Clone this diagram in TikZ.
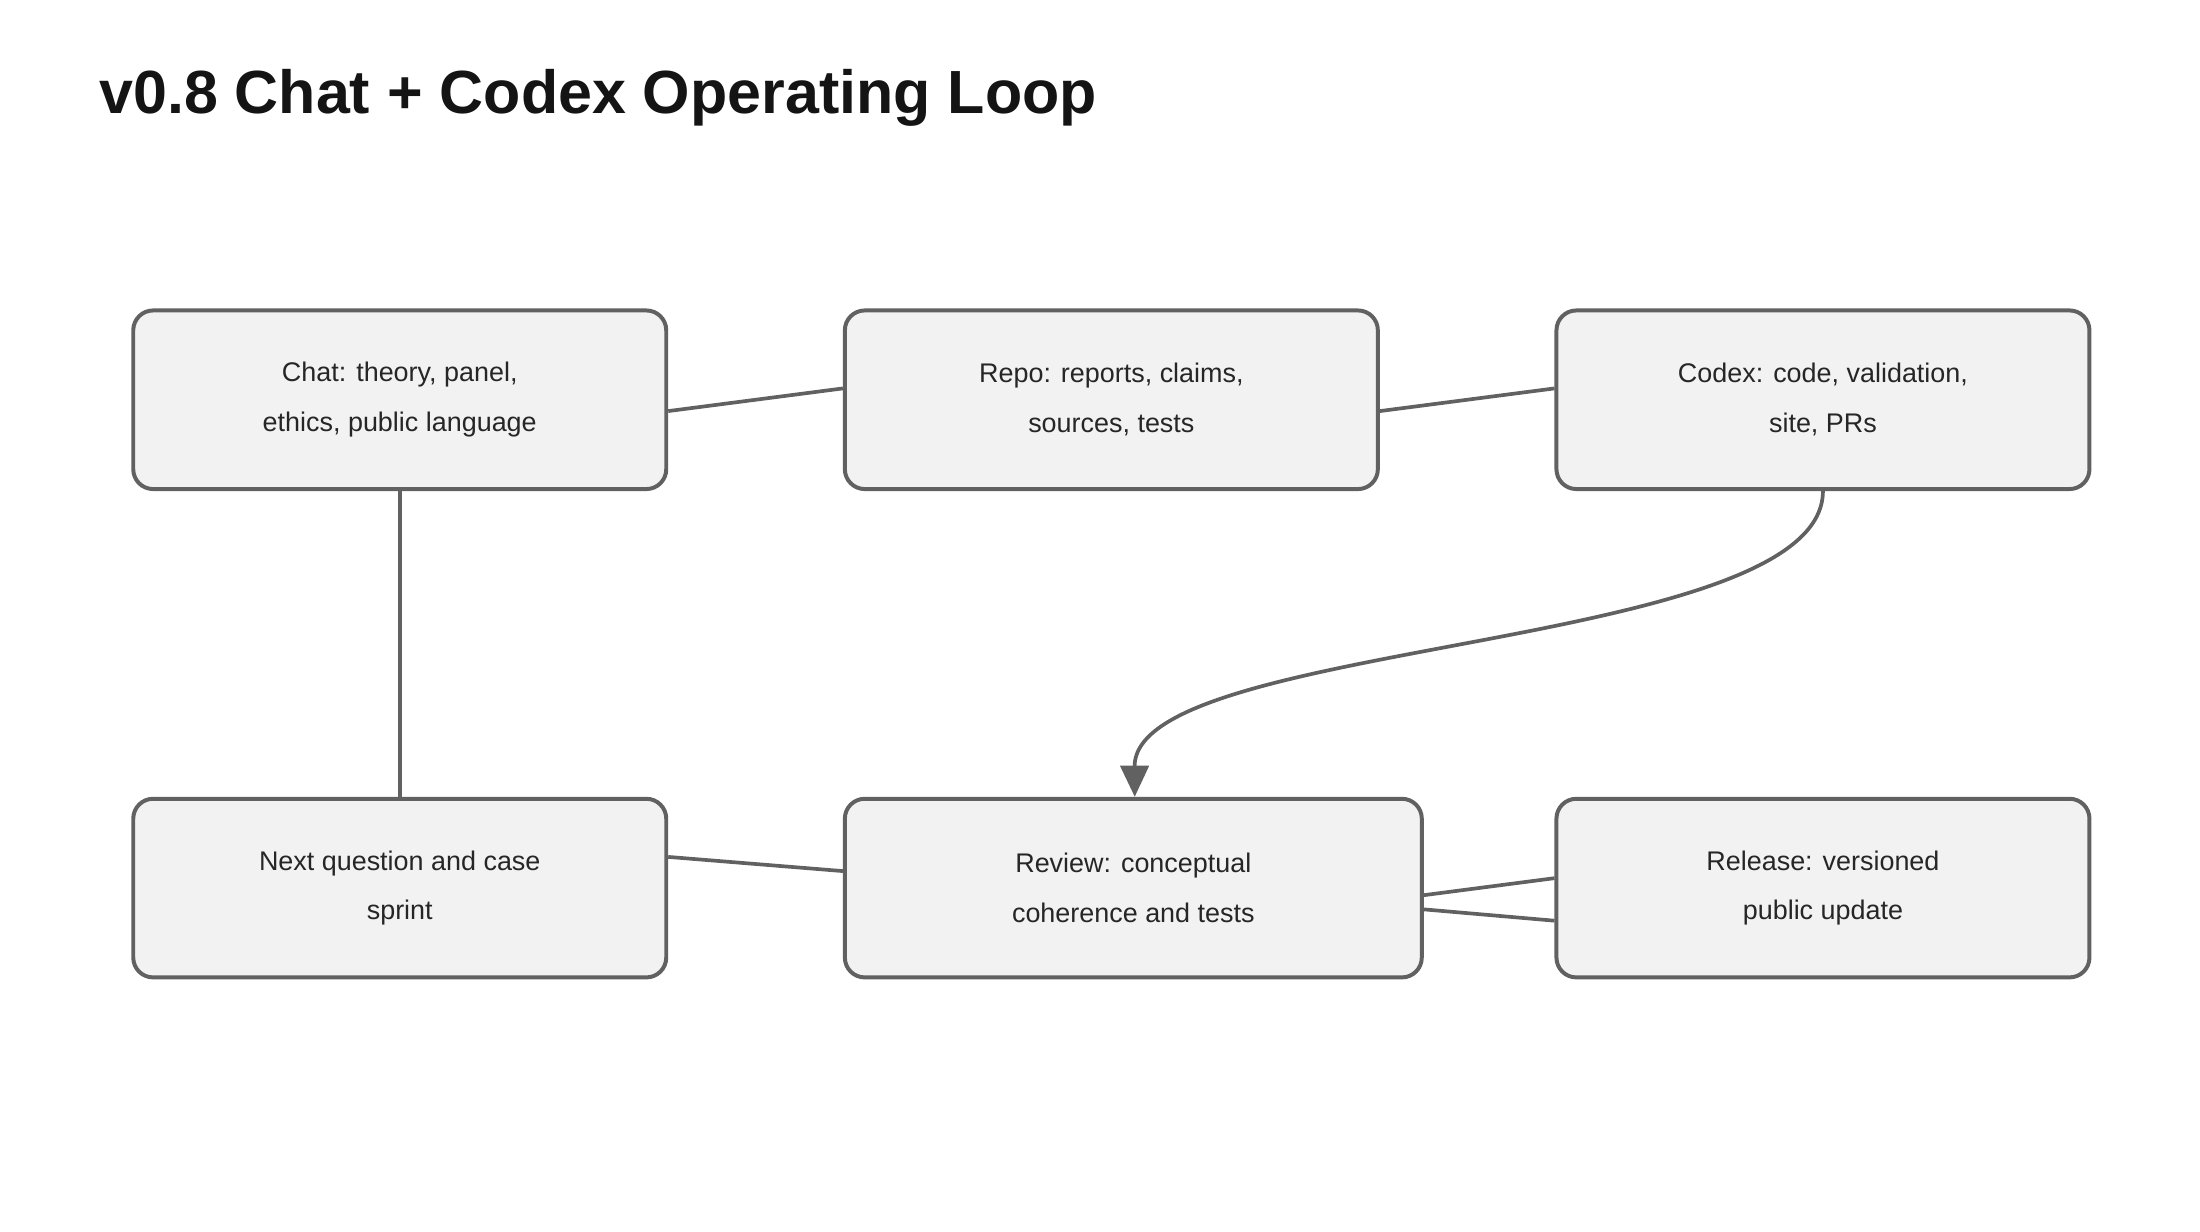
\documentclass[tikz,border=0pt]{standalone}
\usepackage{fontspec}
\setmainfont{Liberation Sans}
\usetikzlibrary{arrows.meta}
\definecolor{edge}{HTML}{616161}
\definecolor{boxfill}{HTML}{F2F2F2}
\tikzset{
  box/.style={draw=edge, fill=boxfill, line width=1.4pt, rounded corners=7pt,
    minimum height=63pt, align=center, font=\fontsize{9.5pt}{17.5pt}\selectfont,
    text=black!85, anchor=center, inner sep=0pt},
  conn/.style={draw=edge, line width=1.3pt},
}
\begin{document}
\begin{tikzpicture}[x=0.5pt,y=-0.5pt]
\useasboundingbox (0,0) rectangle (1552,869);
\node[anchor=base west, font=\fontsize{21.5pt}{24pt}\selectfont\bfseries, text=black!92] (title) at (63,80) {v0.8 Chat + Codex Operating Loop};
\node[box, minimum width=188pt] (chat) at (282,282) {Chat: theory, panel,\\ethics, public language};
\node[box, minimum width=188pt] (repo) at (784,282) {Repo: reports, claims,\\sources, tests};
\node[box, minimum width=188pt] (codex) at (1286,282) {Codex: code, validation,\\site, PRs};
\node[box, minimum width=188pt] (next) at (282,626.5) {Next question and case\\sprint};
\node[box, minimum width=203.5pt] (review) at (799.5,626.5) {Review: conceptual\\coherence and tests};
\node[box, minimum width=188pt] (release) at (1286,626.5) {Release: versioned\\public update};
\draw[conn] ([yshift=-4pt]chat.east) -- ([yshift=4pt]repo.west);
\draw[conn] ([yshift=-4pt]repo.east) -- ([yshift=4pt]codex.west);
\draw[conn] (chat.south) -- (next.north);
\draw[conn] ([yshift=11pt]next.east) -- ([yshift=6pt]review.west);
\draw[conn] ([yshift=-2.5pt]review.east) -- ([yshift=3.5pt]release.west);
\draw[conn] ([yshift=-7.5pt]review.east) -- ([yshift=-11.5pt]release.west);
\draw[conn, -{Triangle[width=10pt,length=11pt]}] (codex.south) .. controls (1286,460) and (800,450) .. ([xshift=0.5pt]review.north);
\end{tikzpicture}
\end{document}
